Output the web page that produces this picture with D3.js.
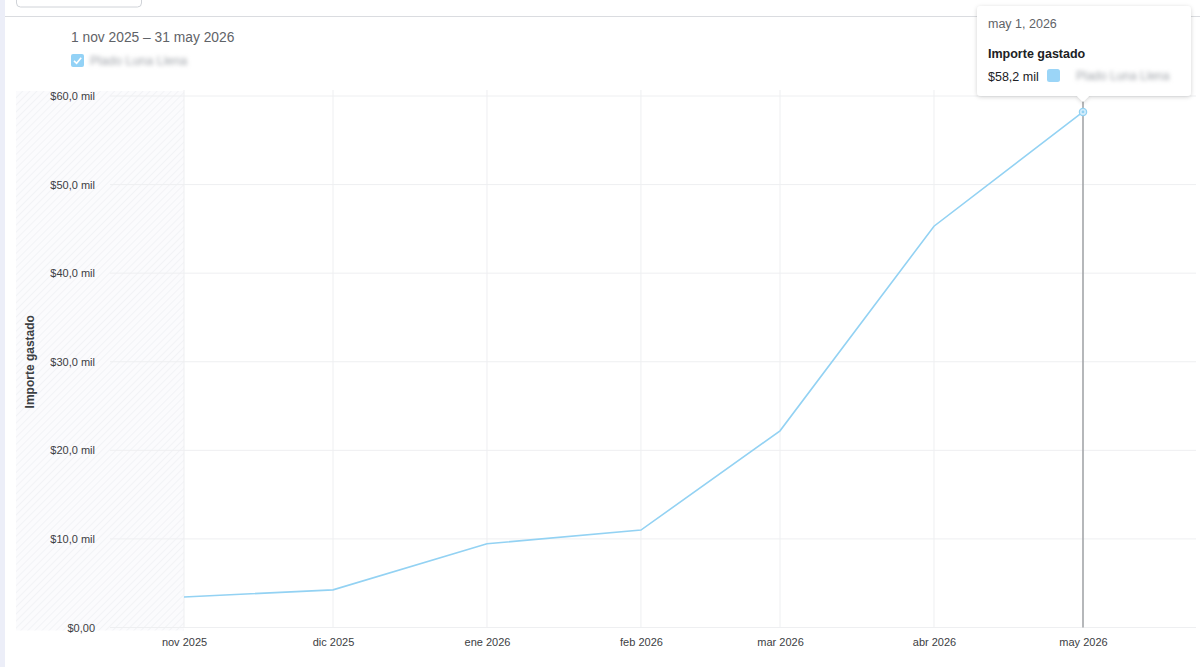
<!DOCTYPE html>
<html>
<head>
<meta charset="utf-8">
<script src="https://cdn.jsdelivr.net/npm/d3@7"></script>
<style>
  body { margin: 0; background: #fff; font-family: "Helvetica Neue", Arial, "Liberation Sans", sans-serif; }
  svg text { font-family: "Helvetica Neue", Arial, "Liberation Sans", sans-serif; }
</style>
</head>
<body>
<div id="chart"></div>
<script>
// data
var months = ['2025-11-01', '2025-12-01', '2026-01-01', '2026-02-01', '2026-03-01', '2026-04-01', '2026-05-01']
var monthLabels = ['nov 2025', 'dic 2025', 'ene 2026', 'feb 2026', 'mar 2026', 'abr 2026', 'may 2026']
var spend = [3450, 4250, 9450, 11000, 22200, 45300, 58200]
var yTicks = [0, 10000, 20000, 30000, 40000, 50000, 60000]
var yTickLabels = ['$0,00', '$10,0 mil', '$20,0 mil', '$30,0 mil', '$40,0 mil', '$50,0 mil', '$60,0 mil']

var width = 1200
var height = 667
var parse = d3.timeParse('%Y-%m-%d')
var dates = months.map(parse)

var svg = d3
  .select('#chart')
  .append('svg')
  .attr('width', width)
  .attr('height', height)

var defs = svg.append('defs')

var hatch = defs.append('pattern')
  .attr('id', 'hatch')
  .attr('patternUnits', 'userSpaceOnUse')
  .attr('width', 5)
  .attr('height', 5)
  .attr('patternTransform', 'rotate(45)')
hatch.append('rect').attr('width', 5).attr('height', 5).attr('fill', '#fbfbfd')
hatch.append('line').attr('x1', 0).attr('y1', 0).attr('x2', 0).attr('y2', 5)
  .attr('stroke', '#f0f1f4').attr('stroke-width', 1.5)

var blur = defs.append('filter').attr('id', 'blur')
blur.append('feGaussianBlur').attr('stdDeviation', 2)

var shadow = defs.append('filter').attr('id', 'shadow')
  .attr('x', '-10%').attr('y', '-10%').attr('width', '120%').attr('height', '130%')
shadow.append('feDropShadow').attr('dx', 0).attr('dy', 1).attr('stdDeviation', 2)
  .attr('flood-color', '#000').attr('flood-opacity', 0.18)

// scales
var x = d3.scaleTime()
  .domain([dates[0], dates[dates.length - 1]])
  .range([184, 1083])

var y = d3.scaleLinear()
  .domain([0, 60000])
  .range([627.5, 96])

// page chrome: left strip, top bar, button
svg.append('rect').attr('x', 0).attr('y', 0).attr('width', 5).attr('height', height).attr('fill', '#eceef8')
svg.append('line').attr('x1', 5).attr('x2', width).attr('y1', 16.5).attr('y2', 16.5)
  .attr('stroke', '#dadce0')
svg.append('rect').attr('x', 16.5).attr('y', -10).attr('width', 125).attr('height', 17).attr('rx', 4)
  .attr('fill', '#fff').attr('stroke', '#d0d3d8')

// header
svg.append('text')
  .attr('x', 71).attr('y', 42)
  .attr('font-size', 13.8)
  .attr('fill', '#5f6368')
  .text('1 nov 2025 – 31 may 2026')

var check = svg.append('g').attr('transform', 'translate(71,54)')
check.append('rect').attr('width', 13).attr('height', 13).attr('rx', 2).attr('fill', '#93d2f6')
check.append('path').attr('d', 'M3,6.8 L5.6,9.3 L10.2,3.8')
  .attr('fill', 'none').attr('stroke', '#fff').attr('stroke-width', 1.6)
svg.append('text')
  .attr('x', 90).attr('y', 65)
  .attr('font-size', 12.5)
  .attr('fill', '#a0a4aa')
  .attr('filter', 'url(#blur)')
  .text('Plado Luna Llena')

// hatched area before the first month
svg.append('rect')
  .attr('x', 16).attr('y', 91)
  .attr('width', x(dates[0]) - 16).attr('height', y(0) - 91 + 3)
  .attr('fill', 'url(#hatch)')

// gridlines
svg.append('g')
  .selectAll('line')
  .data(yTicks)
  .join('line')
  .attr('x1', 110).attr('x2', 1196)
  .attr('y1', d => y(d)).attr('y2', d => y(d))
  .attr('stroke', '#eeeff1')

svg.append('g')
  .selectAll('line')
  .data(dates)
  .join('line')
  .attr('x1', d => x(d)).attr('x2', d => x(d))
  .attr('y1', 90).attr('y2', y(0))
  .attr('stroke', '#eeeff1')

// y axis
var yAxis = d3.axisLeft(y)
  .tickValues(yTicks)
  .tickSize(0)
  .tickPadding(0)
  .tickFormat((d, i) => yTickLabels[i])

svg.append('g')
  .attr('transform', 'translate(95,0)')
  .call(yAxis)
  .call(g => g.select('.domain').remove())
  .selectAll('text')
  .attr('font-size', 11)
  .attr('fill', '#3c4043')

svg.append('text')
  .attr('transform', 'translate(34,' + y(30000) + ') rotate(-90)')
  .attr('text-anchor', 'middle')
  .attr('font-size', 12)
  .attr('font-weight', 'bold')
  .attr('fill', '#3c4043')
  .text('Importe gastado')

// x axis
var xAxis = d3.axisBottom(x)
  .tickValues(dates)
  .tickSize(0)
  .tickPadding(0)
  .tickFormat((d, i) => monthLabels[i])

svg.append('g')
  .attr('transform', 'translate(0,' + (y(0) + 11) + ')')
  .call(xAxis)
  .call(g => g.select('.domain').remove())
  .selectAll('text')
  .attr('font-size', 11)
  .attr('fill', '#3c4043')

// hover line on the last point
var last = dates.length - 1
svg.append('line')
  .attr('x1', x(dates[last])).attr('x2', x(dates[last]))
  .attr('y1', 96).attr('y2', y(0))
  .attr('stroke', '#8a8d91').attr('stroke-width', 1.2)

// the line
var line = d3.line()
  .x((d, i) => x(dates[i]))
  .y(d => y(d))

svg.append('path')
  .datum(spend)
  .attr('d', line)
  .attr('fill', 'none')
  .attr('stroke', '#93d2f3')
  .attr('stroke-width', 1.6)

svg.append('circle')
  .attr('cx', x(dates[last])).attr('cy', y(spend[last]))
  .attr('r', 3.6)
  .attr('fill', '#d6eefc')
  .attr('stroke', '#93d2f3')
  .attr('stroke-width', 1.3)
svg.append('circle')
  .attr('cx', x(dates[last])).attr('cy', y(spend[last]))
  .attr('r', 1.4)
  .attr('fill', '#93d2f3')

// tooltip
var tx = x(dates[last])
var tip = svg.append('g').attr('transform', 'translate(977,6)')
tip.append('path')
  .attr('d', 'M4,0 H210 Q214,0 214,4 V86 Q214,90 210,90 H' + (tx - 977 + 6) + ' L' + (tx - 977) + ',96 L' + (tx - 977 - 6) + ',90 H4 Q0,90 0,86 V4 Q0,0 4,0 Z')
  .attr('fill', '#fff')
  .attr('filter', 'url(#shadow)')
tip.append('text')
  .attr('x', 11).attr('y', 22)
  .attr('font-size', 12.5)
  .attr('fill', '#5f6368')
  .text('may 1, 2026')
tip.append('text')
  .attr('x', 11).attr('y', 52)
  .attr('font-size', 12.5)
  .attr('font-weight', 'bold')
  .attr('fill', '#202124')
  .text('Importe gastado')
tip.append('text')
  .attr('x', 11).attr('y', 75)
  .attr('font-size', 12.5)
  .attr('fill', '#202124')
  .text('$58,2 mil')
tip.append('rect')
  .attr('x', 70).attr('y', 63).attr('width', 13).attr('height', 13).attr('rx', 2.5)
  .attr('fill', '#9bd5f7')
tip.append('text')
  .attr('x', 99).attr('y', 74)
  .attr('font-size', 12)
  .attr('fill', '#a0a4aa')
  .attr('filter', 'url(#blur)')
  .text('Plado Luna Llena')
</script>
</body>
</html>
